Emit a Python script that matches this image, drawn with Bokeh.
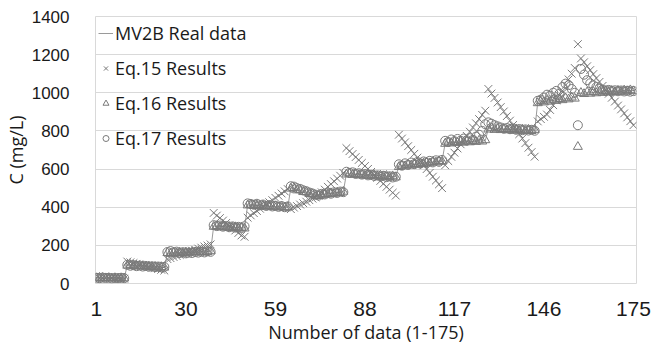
from bokeh.plotting import figure
from bokeh.models import Legend, LegendItem, FixedTicker, Range1d
from bokeh.embed import file_html
from bokeh.resources import INLINE

# ---- data -------------------------------------------------------------
x_index = list(range(1, 176))

real_data = [
    30, 30, 29, 29, 28, 28, 28, 27, 27, 27,
    96, 95, 94, 93, 92, 91, 90, 89, 88, 88, 87, 86, 85,
    158, 159, 160, 160, 161, 162, 162, 163, 164, 164, 165, 166, 166, 167, 168,
    302, 300, 299, 298, 297, 296, 295, 294, 293, 292, 291,
    412, 411, 410, 409, 408, 407, 406, 405, 404, 403, 402, 401, 400, 400,
    502, 497, 492, 487, 482, 477, 472, 467, 462, 458,
    466, 468, 470, 472, 474, 476, 478, 480,
    576, 575, 574, 573, 572, 571, 570, 569, 568, 567, 566, 565, 564, 563, 562, 561, 560,
    614, 616, 618, 620, 622, 624, 626, 628, 630, 632, 634, 636, 638, 640, 642,
    736, 737, 738, 739, 740, 741, 742, 743, 744, 745, 746, 747, 748, 749,
    812, 811, 810, 810, 809, 809, 808, 808, 807, 807, 806, 806, 805, 805, 804, 804,
    950, 952, 954, 956, 958, 960, 962, 964, 966, 968, 970, 972, 974,
    996, 997, 998, 999, 1000, 1001, 1002, 1003, 1004, 1005, 1006, 1007, 1008, 1009, 1010, 1010, 1011, 1011, 1012,
]

eq15 = [
    24, 27, 31, 33, 30, 28, 32, 30, 27, 25,
    115, 111, 107, 103, 99, 96, 92, 88, 84, 80, 76, 72, 68,
    128, 133, 139, 144, 150, 155, 161, 166, 172, 177, 183, 188, 194, 199, 205,
    370, 356, 343, 330, 317, 304, 291, 278, 265, 252, 245,
    345, 357, 369, 380, 392, 403, 415, 426, 437, 449, 460, 472, 483, 495,
    390, 398, 406, 414, 421, 429, 437, 445, 452, 460,
    478, 492, 507, 521, 536, 550, 565, 580,
    710, 694, 679, 663, 648, 632, 616, 601, 585, 570, 554, 538, 523, 507, 492, 476, 461,
    780, 760, 740, 720, 700, 680, 660, 640, 620, 600, 580, 560, 540, 520, 500,
    620, 642, 664, 686, 708, 730, 752, 774, 796, 818, 840, 862, 884, 906,
    1020, 996, 973, 949, 925, 902, 878, 854, 831, 807, 783, 760, 736, 712, 689, 665,
    850, 862, 874, 886, 910, 935, 960, 985, 1010, 1040, 1070, 1100, 1130,
    1255, 1180, 1160, 1139, 1119, 1098, 1077, 1057, 1036, 1016, 995, 974, 954, 933, 913, 892, 871, 851, 830,
]

eq16 = [
    28, 31, 30, 28, 29, 27, 29, 26, 28, 27,
    94, 97, 92, 94, 90, 92, 88, 90, 87, 89, 85, 87, 84,
    160, 157, 162, 159, 163, 160, 164, 161, 165, 163, 167, 164, 168, 165, 170,
    298, 302, 296, 300, 294, 298, 292, 296, 290, 294, 289,
    410, 414, 407, 411, 405, 409, 403, 407, 401, 405, 399, 403, 398, 401,
    498, 500, 489, 490, 480, 479, 470, 469, 460, 459,
    463, 470, 468, 474, 471, 478, 475, 482,
    572, 578, 570, 576, 568, 573, 566, 571, 564, 569, 562, 567, 560, 565, 558, 563, 557,
    611, 619, 615, 623, 619, 627, 623, 631, 627, 635, 631, 639, 635, 643, 640,
    733, 740, 735, 742, 737, 744, 739, 746, 741, 748, 743, 750, 745, 752,
    808, 815, 806, 812, 805, 811, 804, 810, 803, 809, 802, 808, 801, 807, 800, 806,
    946, 956, 950, 960, 954, 964, 958, 968, 962, 972, 966, 976, 970,
    717, 1000, 994, 1003, 996, 1005, 998, 1007, 1000, 1009, 1002, 1011, 1004, 1012, 1006, 1013, 1008, 1014, 1009,
]

eq17 = [
    30, 28, 31, 29, 30, 27, 29, 28, 30, 28,
    98, 93, 96, 91, 94, 89, 92, 88, 90, 86, 89, 85, 87,
    165, 170, 163, 167, 160, 164, 158, 162, 160, 165, 162, 167, 163, 169, 166,
    306, 301, 304, 298, 301, 295, 299, 293, 297, 291, 300,
    420, 417, 413, 418, 410, 414, 407, 411, 404, 408, 402, 406, 400, 404,
    510, 508, 500, 496, 489, 484, 477, 472, 466, 461,
    470, 467, 474, 471, 478, 475, 482, 479,
    586, 580, 583, 575, 578, 571, 574, 567, 570, 564, 567, 561, 565, 558, 562, 556, 560,
    625, 618, 630, 622, 634, 626, 637, 629, 640, 632, 643, 635, 646, 638, 648,
    748, 742, 755, 746, 758, 749, 760, 751, 762, 753, 770, 780, 800, 835,
    845, 838, 830, 824, 818, 812, 815, 809, 812, 806, 810, 804, 808, 802, 806, 801,
    958, 964, 975, 990, 985, 1000, 1010, 995, 1030, 1048, 1040, 1020, 1000,
    830, 1125, 1095, 1066, 1050, 1040, 1030, 1022, 1016, 1012, 1015, 1010, 1013, 1008, 1012, 1007, 1011, 1006, 1009,
]

x_ticks = [1, 30, 59, 88, 117, 146, 175]
y_ticks = [0, 200, 400, 600, 800, 1000, 1200, 1400]

series_labels = ["MV2B Real data", "Eq.15 Results", "Eq.16 Results", "Eq.17 Results"]

# ---- figure -----------------------------------------------------------
p = figure(width=652, height=346, output_backend="svg", toolbar_location=None,
           x_range=Range1d(0.7, 176), y_range=Range1d(0, 1400),
           min_border_left=91, min_border_right=16, min_border_top=16, min_border_bottom=62)

p.background_fill_color = "white"
p.border_fill_color = "white"
p.outline_line_color = "#d9d9d9"
p.outline_line_width = 1

p.xgrid.visible = False
p.ygrid.grid_line_color = "#d9d9d9"
p.ygrid.grid_line_width = 1

mk_col = "#7a7a7a"
r_real = p.line(x_index, real_data, line_color="#9a9a9a", line_width=1)
r15 = p.scatter(x_index, eq15, marker="x", size=11, line_color=mk_col, line_width=1)
r16 = p.scatter(x_index, eq16, marker="triangle", size=9, fill_color=None, line_color=mk_col, line_width=1)
r17 = p.scatter(x_index, eq17, marker="circle", size=9, fill_color=None, line_color=mk_col, line_width=1)

# axes
for ax in (p.xaxis[0], p.yaxis[0]):
    ax.axis_line_color = None
    ax.major_tick_line_color = None
    ax.minor_tick_line_color = None
    ax.major_label_text_color = "#1a1a1a"
    ax.axis_label_text_color = "#1a1a1a"
    ax.axis_label_text_font = "Open Sans"
    ax.axis_label_text_font_style = "normal"
    ax.axis_label_text_font_size = "18px"
    ax.major_label_text_font = "Liberation Sans"

p.xaxis.ticker = FixedTicker(ticks=x_ticks)
p.yaxis.ticker = FixedTicker(ticks=y_ticks)
p.xaxis.major_label_text_font_size = "21px"
p.yaxis.major_label_text_font_size = "17px"
p.xaxis.major_label_standoff = 12
p.yaxis.major_label_standoff = 20
p.xaxis.axis_label = "Number of data (1-175)"
p.yaxis.axis_label = "C (mg/L)"
p.xaxis.axis_label_standoff = 1
p.yaxis.axis_label_standoff = 1

legend = Legend(items=[
    LegendItem(label=series_labels[0], renderers=[r_real]),
    LegendItem(label=series_labels[1], renderers=[r15]),
    LegendItem(label=series_labels[2], renderers=[r16]),
    LegendItem(label=series_labels[3], renderers=[r17]),
], location=(3, 133))
legend.background_fill_alpha = 0
legend.border_line_alpha = 0
legend.label_text_font = "Open Sans"
legend.label_text_font_size = "18px"
legend.label_text_color = "#1a1a1a"
legend.glyph_width = 15
legend.glyph_height = 24
legend.label_height = 24
legend.label_standoff = 2
legend.spacing = 11
legend.padding = 0
legend.margin = 0
p.add_layout(legend)

open("out.html", "w").write(file_html(p, INLINE))
